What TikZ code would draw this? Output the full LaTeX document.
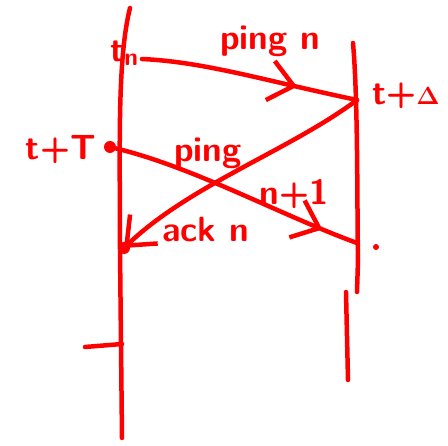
\documentclass[tikz,border=0pt]{standalone}
\usepackage{tikz}
\usepackage{amsmath}
\usetikzlibrary{arrows.meta,decorations.markings}
\definecolor{pen}{HTML}{FF0000}
\begin{document}
\begin{tikzpicture}[x=1pt,y=-1pt,line width=4.5pt,line cap=round,line join=round,color=pen,font=\sffamily\bfseries\fontsize{35}{37}\selectfont,>={Straight Barb[length=24pt,width=40pt,line width=4.5pt]}]
\useasboundingbox (0,0) rectangle (448,446);
\coordinate (tn) at (142,59); \coordinate (td) at (357,100); \coordinate (tT) at (110,147); \coordinate (rcv) at (357,243); \coordinate (ack) at (124,248);
\draw (130,8) .. controls (117,60) and (120,150) .. (120,250) -- (122,438);
\draw (353,43) .. controls (358,100) and (357,200) .. (358,260) -- (357,292); \draw (346,292) -- (348,380);
\draw (85,347) -- (122,344);
\draw[postaction={decorate},decoration={markings,mark=at position 0.72 with {\arrow{>}}}] (tn) .. controls (205,62) and (262,80) .. (td);
\draw[->] (td) .. controls (290,150) and (190,185) .. (ack);
\draw[postaction={decorate},decoration={markings,mark=at position 0.86 with {\arrow{>}}}] (tT) .. controls (190,165) and (280,215) .. (rcv);
\fill (tT) circle (6); \fill (ack) circle (6); \fill (376,247) circle (3);
\node[anchor=base west,inner sep=0pt] (ltn) at (108,62) {t\textsubscript{n}};
\node[anchor=base,inner sep=0pt] (lpingn) at (270,50) {ping n};
\node[anchor=west,inner sep=0pt] (ltd) at (370,96) {t+$\boldsymbol{\Delta}$};
\node[anchor=east,inner sep=0pt] (ltT) at (98,150) {t+T};
\node[anchor=base,inner sep=0pt] (lping) at (208,162) {ping};
\node[anchor=base,inner sep=0pt] (ln) at (294,205) {n+1};
\node[anchor=base west,inner sep=0pt] (lack) at (160,242) {ack n};
\end{tikzpicture}
\end{document}
